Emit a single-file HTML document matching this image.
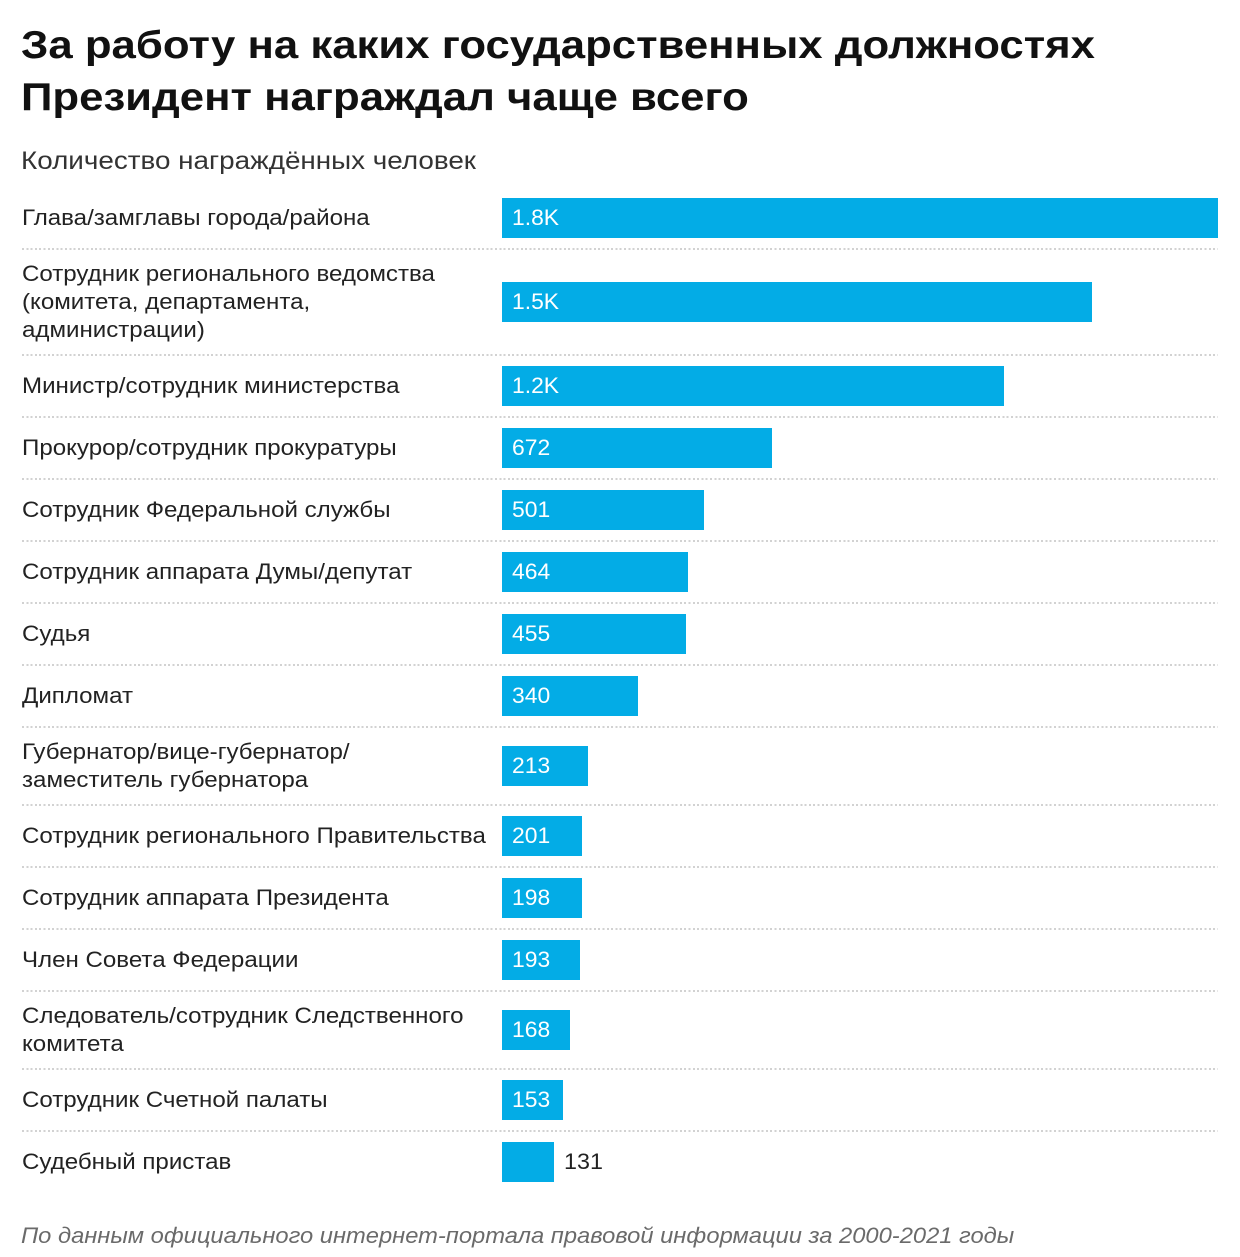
<!DOCTYPE html>
<html>
<head>
<meta charset="utf-8">
<style>
  html,body{margin:0;padding:0;background:#fff;}
  body{width:1240px;height:1257px;position:relative;overflow:hidden;font-family:"Liberation Sans",Arial,sans-serif;color:#222;}
  .title{position:absolute;left:21px;top:20px;font-size:39px;font-weight:bold;line-height:52px;color:#111;white-space:nowrap;transform:scaleX(1.121);transform-origin:0 0;}
  .sub{position:absolute;left:21px;top:145px;font-size:25px;line-height:32px;color:#333;white-space:nowrap;transform:scaleX(1.113);transform-origin:0 0;}
  .lbl{position:absolute;left:22px;font-size:22px;line-height:28px;color:#222;white-space:nowrap;transform:scaleX(1.095);transform-origin:0 0;}
  .bar{position:absolute;left:502px;height:40px;background:#03ace6;}
  .bar span{position:absolute;left:10px;top:0;line-height:40px;font-size:22px;color:#fff;transform:scaleX(1.04);transform-origin:0 0;}
  .out{position:absolute;font-size:22px;line-height:40px;color:#222;transform:scaleX(1.06);transform-origin:0 0;}
  .sep{position:absolute;left:22px;width:1196px;height:2px;background:repeating-linear-gradient(90deg,#d2d2d2 0 2px,transparent 2px 4.3px);}
  .foot{position:absolute;left:21px;top:1221px;font-size:22.5px;line-height:30px;font-style:italic;color:#6a6a6a;white-space:nowrap;transform:scaleX(1.054);transform-origin:0 0;}
</style>
</head>
<body>
<div class="title">За работу на каких государственных должностях<br>Президент награждал чаще всего</div>
<div class="sub">Количество награждённых человек</div>

<div class="lbl" style="top:204px">Глава/замглавы города/района</div>
<div class="bar" style="top:198px;width:716px"><span>1.8K</span></div>
<div class="sep" style="top:248px"></div>

<div class="lbl" style="top:260px">Сотрудник регионального ведомства<br>(комитета, департамента,<br>администрации)</div>
<div class="bar" style="top:282px;width:590px"><span>1.5K</span></div>
<div class="sep" style="top:354px"></div>

<div class="lbl" style="top:372px">Министр/сотрудник министерства</div>
<div class="bar" style="top:366px;width:502px"><span>1.2K</span></div>
<div class="sep" style="top:416px"></div>

<div class="lbl" style="top:434px">Прокурор/сотрудник прокуратуры</div>
<div class="bar" style="top:428px;width:270px"><span>672</span></div>
<div class="sep" style="top:478px"></div>

<div class="lbl" style="top:496px">Сотрудник Федеральной службы</div>
<div class="bar" style="top:490px;width:202px"><span>501</span></div>
<div class="sep" style="top:540px"></div>

<div class="lbl" style="top:558px">Сотрудник аппарата Думы/депутат</div>
<div class="bar" style="top:552px;width:186px"><span>464</span></div>
<div class="sep" style="top:602px"></div>

<div class="lbl" style="top:620px">Судья</div>
<div class="bar" style="top:614px;width:184px"><span>455</span></div>
<div class="sep" style="top:664px"></div>

<div class="lbl" style="top:682px">Дипломат</div>
<div class="bar" style="top:676px;width:136px"><span>340</span></div>
<div class="sep" style="top:726px"></div>

<div class="lbl" style="top:738px">Губернатор/вице-губернатор/<br>заместитель губернатора</div>
<div class="bar" style="top:746px;width:86px"><span>213</span></div>
<div class="sep" style="top:804px"></div>

<div class="lbl" style="top:822px">Сотрудник регионального Правительства</div>
<div class="bar" style="top:816px;width:80px"><span>201</span></div>
<div class="sep" style="top:866px"></div>

<div class="lbl" style="top:884px">Сотрудник аппарата Президента</div>
<div class="bar" style="top:878px;width:80px"><span>198</span></div>
<div class="sep" style="top:928px"></div>

<div class="lbl" style="top:946px">Член Совета Федерации</div>
<div class="bar" style="top:940px;width:78px"><span>193</span></div>
<div class="sep" style="top:990px"></div>

<div class="lbl" style="top:1002px">Следователь/сотрудник Следственного<br>комитета</div>
<div class="bar" style="top:1010px;width:68px"><span>168</span></div>
<div class="sep" style="top:1068px"></div>

<div class="lbl" style="top:1086px">Сотрудник Счетной палаты</div>
<div class="bar" style="top:1080px;width:61px"><span>153</span></div>
<div class="sep" style="top:1130px"></div>

<div class="lbl" style="top:1148px">Судебный пристав</div>
<div class="bar" style="top:1142px;width:52px"></div>
<div class="out" style="top:1142px;left:564px">131</div>

<div class="foot">По данным официального интернет-портала правовой информации за 2000-2021 годы</div>
</body>
</html>
